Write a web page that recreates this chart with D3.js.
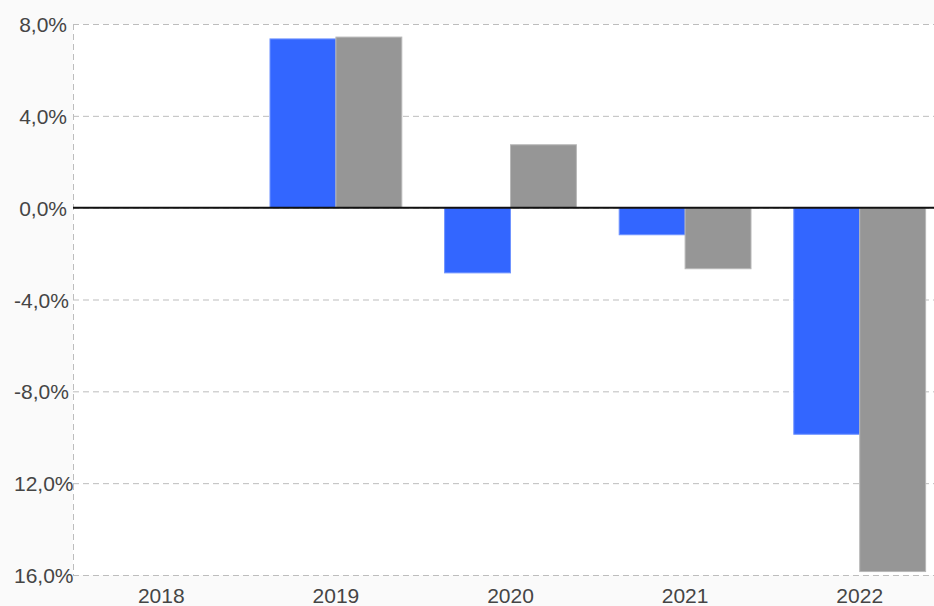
<!DOCTYPE html>
<html>
<head>
<meta charset="utf-8">
<script src="https://cdn.jsdelivr.net/npm/d3@7"></script>
<style>
  body { margin: 0; background: #fafafa; }
  svg { display: block; }
</style>
</head>
<body>
<script>
// data
var years = ["2018", "2019", "2020", "2021", "2022"];
var seriesNames = ["A", "B"];
var blueValues = [null, 7.35, -2.84, -1.18, -9.87];
var grayValues = [null, 7.43, 2.74, -2.66, -15.85];
var tickValues = [8, 4, 0, -4, -8, -12, -16];
var tickLabels = ["8,0%", "4,0%", "0,0%", "-4,0%", "-8,0%", "12,0%", "16,0%"];
var colors = ["#3366ff", "#969696"];

var width = 934,
    height = 606,
    plotLeft = 73,
    plotTop = 24,
    plotBottom = 575;

var svg = d3.select("body").append("svg")
    .attr("width", width)
    .attr("height", height)
    .style("background", "#fafafa");

var y = d3.scaleLinear().domain([-16, 8]).range([plotBottom, plotTop]);

var x0 = d3.scaleBand()
    .domain(years)
    .range([74, 947])
    .paddingInner(0.245)
    .paddingOuter(0.1225);

var x1 = d3.scaleBand()
    .domain(seriesNames)
    .range([0, x0.bandwidth()]);

// plot area
svg.append("rect")
    .attr("x", plotLeft)
    .attr("y", plotTop)
    .attr("width", width - plotLeft)
    .attr("height", plotBottom - plotTop)
    .attr("fill", "#ffffff");

// horizontal grid
var yAxis = d3.axisLeft(y)
    .tickValues(tickValues)
    .tickSize(-(width - plotLeft))
    .tickFormat(function(d, i) { return tickLabels[i]; });

var gy = svg.append("g")
    .attr("transform", "translate(" + plotLeft + ",0)")
    .call(yAxis);

gy.select(".domain").remove();
gy.selectAll(".tick line")
    .attr("stroke", "#bdbdbd")
    .attr("stroke-dasharray", "6,4");
gy.selectAll(".tick text")
    .attr("font-family", "'Liberation Sans', Arial, sans-serif")
    .attr("font-size", 21)
    .attr("fill", "#454545")
    .attr("dy", "0.36em")
    .attr("x", -6)
    .each(function() {
        // right aligned, but never past the left margin
        var w = this.getComputedTextLength();
        if (67 - w < 14) {
            d3.select(this).attr("text-anchor", "start").attr("x", 14 - plotLeft);
        }
    });

// left axis line, dashed like the grid
svg.append("line")
    .attr("x1", plotLeft + 0.5).attr("x2", plotLeft + 0.5)
    .attr("y1", plotTop).attr("y2", plotBottom)
    .attr("stroke", "#bdbdbd")
    .attr("stroke-dasharray", "6,4");

// bars
var rows = years.map(function(yr, i) {
    return { year: yr, values: [blueValues[i], grayValues[i]] };
});

var groups = svg.selectAll("g.year")
    .data(rows)
    .enter().append("g")
    .attr("class", "year")
    .attr("transform", function(d) { return "translate(" + x0(d.year) + ",0)"; });

groups.selectAll("rect")
    .data(function(d) {
        return d.values.map(function(v, j) { return { key: seriesNames[j], value: v, j: j }; })
            .filter(function(e) { return e.value !== null; });
    })
    .enter().append("rect")
    .attr("x", function(d) { return x1(d.key); })
    .attr("y", function(d) { return y(Math.max(0, d.value)); })
    .attr("width", x1.bandwidth())
    .attr("height", function(d) { return Math.abs(y(d.value) - y(0)); })
    .attr("fill", function(d) { return colors[d.j]; })
    .attr("stroke", function(d) { return d.j === 0 ? "#6f93ff" : "#b8b8b8"; })
    .attr("stroke-width", 1);

// zero line
svg.append("line")
    .attr("x1", plotLeft).attr("x2", width)
    .attr("y1", y(0)).attr("y2", y(0))
    .attr("stroke", "#111")
    .attr("stroke-width", 2);

// category labels
var xAxis = d3.axisBottom(x0).tickSize(0);
var gx = svg.append("g")
    .attr("transform", "translate(0," + plotBottom + ")")
    .call(xAxis);
gx.select(".domain").remove();
gx.selectAll(".tick text")
    .attr("font-family", "'Liberation Sans', Arial, sans-serif")
    .attr("font-size", 21)
    .attr("fill", "#454545")
    .attr("y", 13)
    .attr("dy", "0.71em");
</script>
</body>
</html>
